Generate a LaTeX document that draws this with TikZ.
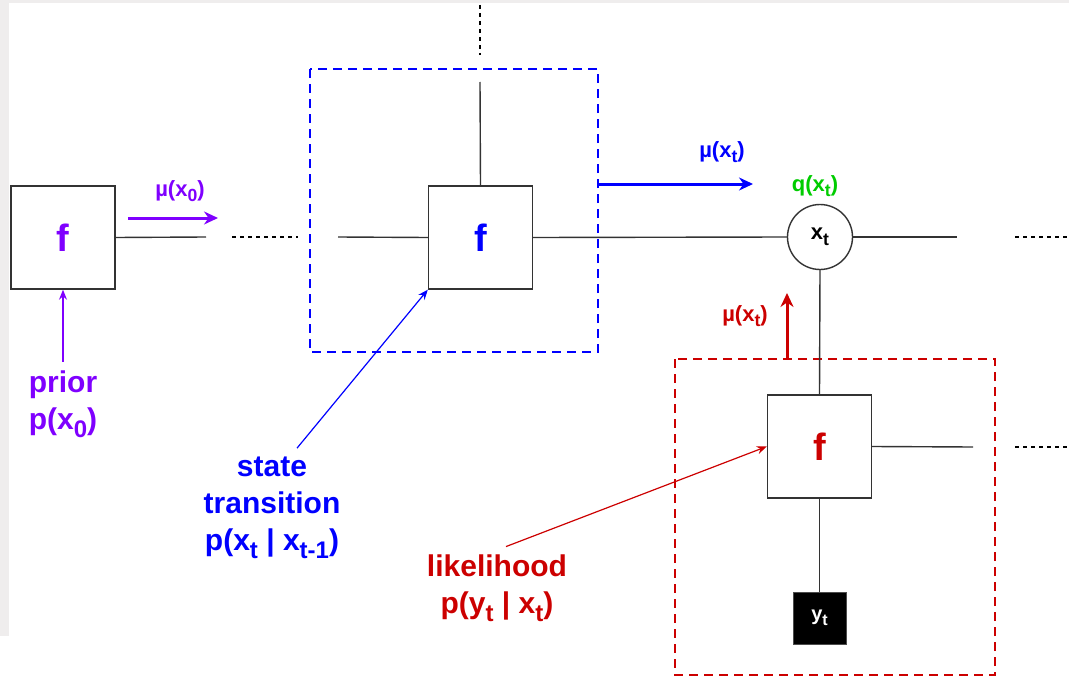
\documentclass[tikz,border=0pt]{standalone}
\usepackage{fontspec}
\setmainfont{Liberation Sans}
\usetikzlibrary{arrows.meta}

\definecolor{purp}{HTML}{7F00FF}
\definecolor{blu}{HTML}{0000FF}
\definecolor{grn}{HTML}{00CC00}
\definecolor{rd}{HTML}{CC0000}
\definecolor{bggray}{HTML}{EFEDED}

\newcommand{\idx}[1]{\raisebox{-0.25em}{\scalebox{0.8}{#1}}}

\tikzset{
	fbox/.style={draw=black!80, line width=1.4pt, fill=white, inner sep=0pt,
		minimum width=104pt, minimum height=103pt, font=\fontsize{38}{40}\selectfont\bfseries},
	link/.style={draw=black!80, line width=1.4pt},
	dots/.style={line width=1.1pt, dash pattern=on 4pt off 4pt},
	frame/.style={line width=2.8pt, dash pattern=on 9pt off 6pt},
	msg/.style={line width=3pt, -{Stealth[length=14pt,width=13pt]}},
	pointer/.style={line width=1.2pt, -{Stealth[length=10pt,width=8pt]}},
	big/.style={font=\fontsize{30}{37}\selectfont\bfseries, align=center, inner sep=0pt},
	small/.style={font=\fontsize{22}{26}\selectfont\bfseries, inner sep=0pt},
}

\begin{document}
\begin{tikzpicture}[x=1pt, y=-1pt]
		\useasboundingbox (0,0) rectangle (1069,677);
		% page background strips
		\fill[bggray] (0,0) rectangle (1069,3);
		\fill[bggray] (0,0) rectangle (9,636);

		% dashed frames
		\draw[frame, draw=blu] (310,69) rectangle (598,352);
		\draw[frame, draw=rd] (675,359) rectangle (995,675);

		% factor nodes
		\node[fbox, text=purp] (f0) at (63,237.5) {f};
		\node[fbox, text=blu] (f1) at (480.5,237.5) {f};
		\node[fbox, text=rd] (f2) at (819.5,446.5) {f};
		\node[draw=black!80, line width=1.4pt, circle, minimum size=65pt, small, fill=white] (x) at (820,237) {x\idx{t}};
		\node[fill=black, draw=black!70, minimum width=53pt, minimum height=52pt, inner sep=0pt,
			text=white, font=\fontsize{20}{24}\selectfont\bfseries] (y) at (819.5,618) {y\idx{t}};

		% loose ends
		\coordinate (f0out) at (206,237);
		\coordinate (d0a) at (232,237); \coordinate (d0b) at (298,237);
		\coordinate (f1in) at (338,237);
		\coordinate (f1up) at (480,82);
		\coordinate (d1a) at (480,5); \coordinate (d1b) at (480,55);
		\coordinate (xout) at (957,237);
		\coordinate (d2a) at (1015,237); \coordinate (d2b) at (1069,237);
		\coordinate (f2out) at (973,447);
		\coordinate (d3a) at (1015,447); \coordinate (d3b) at (1069,447);

		\draw[link] (f0.east) -- (f0out);
		\draw[link] (f1in) -- (f1.west);
		\draw[link] (f1.north) -- (f1up);
		\draw[link] (f1.east) -- (x.west);
		\draw[link] (x.east) -- (xout);
		\draw[link] (x.south) -- (f2.north);
		\draw[link] (f2.east) -- (f2out);
		\draw[link] (f2.south) -- (y.north);
		\draw[dots] (d0a) -- (d0b);
		\draw[dots] (d1a) -- (d1b);
		\draw[dots] (d2a) -- (d2b);
		\draw[dots] (d3a) -- (d3b);

		% messages
		\coordinate (m0a) at (128,218); \coordinate (m0b) at (218,218);
		\coordinate (m1a) at (598,184); \coordinate (m1b) at (753,184);
		\coordinate (m2a) at (787,359); \coordinate (m2b) at (787,293);
		\draw[msg, purp] (m0a) -- (m0b);
		\draw[msg, blu] (m1a) -- (m1b);
		\draw[msg, rd] (m2a) -- (m2b);
		\node[small, text=purp] (mu0) at (180,191) {µ(x\idx{0})};
		\node[small, text=blu] (mu1) at (722,152) {µ(x\idx{t})};
		\node[small, text=rd] (mu2) at (745,316) {µ(x\idx{t})};
		\node[small, text=grn] (q) at (815,186) {q(x\idx{t})};

		% annotations
		\node[big, text=purp] (prior) at (63,404) {prior\\p(x\idx{0})};
		\node[big, text=blu] (trans) at (272,508) {state\\transition\\p(x\idx{t} | x\idx{t-1})};
		\node[big, text=rd] (lik) at (497,588) {likelihood\\p(y\idx{t} | x\idx{t})};
		\draw[pointer, purp] ([yshift=9pt]prior.north) -- (f0.south);
		\draw[pointer, blu] ([xshift=25pt,yshift=9pt]trans.north) -- (f1.south west);
		\draw[pointer, rd] ([xshift=9pt,yshift=8pt]lik.north) -- (f2.west);
\end{tikzpicture}
\end{document}
